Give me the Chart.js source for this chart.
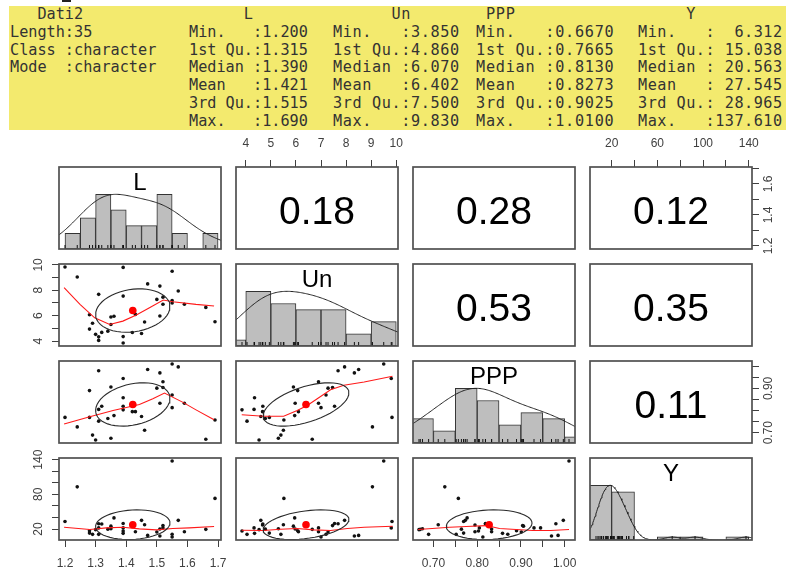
<!DOCTYPE html>
<html>
<head>
<meta charset="utf-8">
<title>Dati2 – pairs panels</title>
<script src="https://cdn.jsdelivr.net/npm/chart.js@4.4.1/dist/chart.umd.min.js"></script>
<style>
  html, body { margin: 0; padding: 0; background: #fff; }
  #page { position: relative; width: 786px; height: 574px; overflow: hidden; background: #fff; }
  #summary { position: absolute; left: 9px; top: 6px; width: 777px; height: 124px; background: #f3ea6e; }
  .sumcol { position: absolute; top: 0; margin: 0; font-family: 'DejaVu Sans Mono', 'Liberation Mono', monospace;
            font-size: 15.2px; line-height: 17.8px; color: #333; white-space: pre; }
  #cursor { position: absolute; left: 62px; top: 0; width: 9px; height: 2px; background: #222; }
  canvas.panel { position: absolute; }
</style>
</head>
<body>
<div id="page">
  <div id="cursor"></div>
  <div id="summary"></div>
</div>
<script>
// ---------- data: 35 observations of Dati2 ----------
const obsL   = [1.20,1.24,1.28,1.28,1.29,1.30,1.31,1.31,1.31,1.32,1.34,1.35,1.35,1.36,1.39,1.39,1.39,1.39,1.42,1.43,1.45,1.46,1.47,1.50,1.51,1.51,1.52,1.52,1.55,1.55,1.55,1.57,1.59,1.66,1.69];
const obsUn  = [9.83,9.05,6.07,4.94,5.40,4.53,7.68,4.33,4.05,4.68,4.78,5.30,5.90,5.95,9.80,7.54,4.35,3.85,4.67,6.10,4.60,5.50,8.50,7.28,8.33,5.97,7.46,6.90,9.50,7.00,7.20,7.94,6.90,6.65,5.52];
const obsPPP = [0.769,0.726,0.890,0.769,0.689,0.667,0.980,0.805,0.752,0.819,0.764,0.675,0.906,0.777,0.945,0.819,0.858,0.803,0.795,0.795,0.773,0.711,0.985,0.901,0.970,0.833,0.904,0.930,1.010,0.813,0.870,0.997,0.833,0.670,0.757];
const obsY   = [33,93,17,13,10.8,19,29.13,22,10.8,28.8,19.8,20.563,25,39.3,22,29.5,12.6,16.5,27,15.3,35,27.5,9,14.8,8,20,26,22,137.61,6.312,11,35,15.276,19.5,73];

const varNames = ['L', 'Un', 'PPP', 'Y'];

// summary() table
const statNames = ['Min.   ', '1st Qu.', 'Median ', 'Mean   ', '3rd Qu.', 'Max.   '];
const statL   = ['1.200', '1.315', '1.390', '1.421', '1.515', '1.690'];
const statUn  = ['3.850', '4.860', '6.070', '6.402', '7.500', '9.830'];
const statPPP = ['0.6670', '0.7665', '0.8130', '0.8273', '0.9025', '1.0100'];
const statY   = ['  6.312', ' 15.038', ' 20.563', ' 27.545', ' 28.965', '137.610'];
const dati2Info = ['Length:35', 'Class :character', 'Mode  :character'];

// correlations, upper triangle row by row: L-Un, L-PPP, L-Y, Un-PPP, Un-Y, PPP-Y
const corrValues = [0.18, 0.28, 0.12, 0.53, 0.35, 0.11];

// histogram breaks
const breaksL   = [1.20, 1.25, 1.30, 1.35, 1.40, 1.45, 1.50, 1.55, 1.60, 1.65, 1.70];
const breaksUn  = [3, 4, 5, 6, 7, 8, 9, 10];
const breaksPPP = [0.65, 0.70, 0.75, 0.80, 0.85, 0.90, 0.95, 1.00, 1.05];
const breaksY   = [0, 20, 40, 60, 80, 100, 120, 140];

// axis ticks and their labels
const ticksL   = [1.2, 1.3, 1.4, 1.5, 1.6, 1.7];
const ticksUn  = [4, 5, 6, 7, 8, 9, 10];
const ticksPPP = [0.70, 0.75, 0.80, 0.85, 0.90, 0.95, 1.00];
const ticksY   = [20, 40, 60, 80, 100, 120, 140];
const labelsLBottom   = ['1.2', '1.3', '1.4', '1.5', '1.6', '1.7'];
const labelsLRight    = ['1.2', '', '1.4', '', '1.6', ''];
const labelsUnTop     = ['4', '5', '6', '7', '8', '9', '10'];
const labelsUnLeft    = ['4', '', '6', '', '8', '', '10'];
const labelsPPPBottom = ['0.70', '', '0.80', '', '0.90', '', '1.00'];
const labelsPPPRight  = ['0.70', '', '', '', '0.90', '', ''];
const labelsYTop      = ['20', '', '60', '', '100', '', '140'];
const labelsYLeft     = ['20', '', '', '80', '', '', '140'];

// lowess smoother vertices
const smoothLUnX   = [1.197, 1.249, 1.297, 1.346, 1.389, 1.433, 1.476, 1.521, 1.552, 1.628, 1.687];
const smoothLUnY   = [8.20, 6.89, 5.83, 5.31, 5.57, 6.05, 6.62, 7.23, 7.10, 6.89, 6.76];
const smoothLPPPX  = [1.197, 1.281, 1.357, 1.443, 1.487, 1.525, 1.584, 1.628, 1.687];
const smoothLPPPY  = [0.739, 0.772, 0.800, 0.827, 0.853, 0.879, 0.838, 0.803, 0.758];
const smoothLYX    = [1.197, 1.281, 1.335, 1.389, 1.443, 1.498, 1.552, 1.606, 1.687];
const smoothLYY    = [23.1, 19.1, 22.1, 23.1, 20.3, 18.6, 20.9, 22.1, 24.3];
const smoothUnPPPX = [3.84, 4.71, 5.51, 6.05, 6.45, 6.85, 7.38, 7.91, 8.72, 9.85];
const smoothUnPPPY = [0.781, 0.774, 0.774, 0.800, 0.823, 0.853, 0.894, 0.914, 0.929, 0.955];
const smoothUnYX   = [3.84, 4.71, 5.38, 6.05, 6.71, 7.38, 8.05, 8.72, 9.86];
const smoothUnYY   = [17.9, 17.4, 19.7, 20.9, 18.6, 17.4, 20.9, 23.1, 24.8];
const smoothPPPYX  = [0.665, 0.737, 0.775, 0.821, 0.851, 0.889, 0.927, 0.968, 1.010];
const smoothPPPYY  = [19.1, 23.1, 24.3, 26.0, 20.9, 19.1, 17.4, 17.4, 19.1];

// ---------- summary block ----------
const summaryEl = document.getElementById('summary');
function addSummaryColumn(pageX, spacing, lines) {
  const pre = document.createElement('pre');
  pre.className = 'sumcol';
  pre.style.left = (pageX - 9) + 'px';
  pre.style.letterSpacing = spacing + 'px';
  pre.textContent = lines.join('\n');
  summaryEl.appendChild(pre);
}
const statLines = vals => statNames.map((n, k) => n + ':' + vals[k]);
addSummaryColumn(10,  0,    ['   Dati2'].concat(dati2Info));
addSummaryColumn(189, 0,    ['      L'].concat(statLines(statL)));
addSummaryColumn(333, 0.6,  ['      Un'].concat(statLines(statUn)));
addSummaryColumn(476, 0.75, [' PPP'].concat(statLines(statPPP)));
addSummaryColumn(638, 0.5,  ['     Y'].concat(statLines(statY)));

// ---------- helpers ----------
const mean = a => a.reduce((s, v) => s + v, 0) / a.length;
const sd = a => { const m = mean(a); return Math.sqrt(a.reduce((s, v) => s + (v - m) * (v - m), 0) / (a.length - 1)); };
const extRange = a => { const lo = Math.min(...a), hi = Math.max(...a), d = (hi - lo) * 0.04; return [lo - d, hi + d]; };
const zip = (xs, ys) => xs.map((x, i) => ({x, y: ys[i]}));

function histCounts(values, br) {
  const c = new Array(br.length - 1).fill(0);
  values.forEach(v => {
    for (let i = 0; i < br.length - 1; i++) {
      if (v <= br[i + 1] && (v > br[i] || (i === 0 && v >= br[0]))) { c[i]++; break; }
    }
  });
  return c;
}

// gaussian kernel density, bandwidth bw.nrd * adjust, scaled to peak 1
function densityCurve(values, adjust) {
  const n = values.length;
  const s = values.slice().sort((a, b) => a - b);
  const q = p => { const h = (n - 1) * p, lo = Math.floor(h); return s[lo] + (h - lo) * (s[Math.min(lo + 1, n - 1)] - s[lo]); };
  const bw = 1.06 * Math.min(sd(values), (q(0.75) - q(0.25)) / 1.34) * Math.pow(n, -0.2) * adjust;
  const from = s[0] - 3 * bw, to = s[n - 1] + 3 * bw, N = 256, out = [];
  for (let i = 0; i < N; i++) {
    const g = from + (to - from) * i / (N - 1);
    let d = 0;
    for (const v of values) { const z = (g - v) / bw; d += Math.exp(-0.5 * z * z); }
    out.push({x: g, y: d});
  }
  const top = Math.max(...out.map(p => p.y));
  return out.map(p => ({x: p.x, y: p.y / top}));
}

// correlation ellipse at one standard deviation
function ellipsePath(xm, ym, xs, ys, r) {
  const seg = 51, th = (r >= 0 ? 1 : -1) / Math.SQRT2;
  const a = Math.sqrt(1 + r), b = Math.sqrt(1 - r), out = [];
  for (let k = 0; k <= seg; k++) {
    const ang = k * 2 * Math.PI / seg, c = Math.cos(ang), s = Math.sin(ang);
    const ex = c * a * th - s * b * th;
    const ey = c * a * th + s * b * th;
    out.push({x: ex * xs + xm, y: ey * ys + ym});
  }
  return out;
}

// ---------- panel geometry ----------
const COL_X = [59, 236, 413, 590];
const ROW_Y = [167, 264, 361, 458];
const PW = 162, PH = 82, M = 34;
const TICK_LEN = 7;
const INK = '#404040';
const FRAME_INK = '#505050';
const FONT_FAMILY = "'Liberation Sans', Arial, Helvetica, sans-serif";
Chart.defaults.font.family = FONT_FAMILY;

const varData   = [obsL, obsUn, obsPPP, obsY];
const varRange  = varData.map(extRange);
const varBreaks = [breaksL, breaksUn, breaksPPP, breaksY];
const varTicks  = [ticksL, ticksUn, ticksPPP, ticksY];
const topLabels    = [null, labelsUnTop, null, labelsYTop];
const bottomLabels = [labelsLBottom, null, labelsPPPBottom, null];
const leftLabels   = [null, labelsUnLeft, null, labelsYLeft];
const rightLabels  = [labelsLRight, null, labelsPPPRight, null];
const smoothers = {
  '0-1': zip(smoothLUnX, smoothLUnY),
  '0-2': zip(smoothLPPPX, smoothLPPPY),
  '0-3': zip(smoothLYX, smoothLYY),
  '1-2': zip(smoothUnPPPX, smoothUnPPPY),
  '1-3': zip(smoothUnYX, smoothUnYY),
  '2-3': zip(smoothPPPYX, smoothPPPYY)
};
const corrIndex = {'0-1': 0, '0-2': 1, '0-3': 2, '1-2': 3, '1-3': 4, '2-3': 5};

const measureCtx = document.createElement('canvas').getContext('2d');
function widestLabel(labels) {
  measureCtx.font = '12px ' + FONT_FAMILY;
  return Math.max(...labels.map(s => measureCtx.measureText(s).width));
}

function scaleOptions(horizontal, range, ticks, spec) {
  const o = {
    type: 'linear', min: range[0], max: range[1], offset: false,
    display: !!spec,
    position: spec ? spec.pos : (horizontal ? 'bottom' : 'left'),
    afterBuildTicks: s => { s.ticks = ticks.map(v => ({value: v})); },
    grid: {drawOnChartArea: false, drawTicks: true, tickLength: TICK_LEN, color: INK, lineWidth: 1},
    border: {display: false},
    ticks: {autoSkip: false, font: {size: 12, family: FONT_FAMILY}, color: INK}
  };
  if (spec) {
    const lab = spec.labels;
    o.ticks.callback = (v, i) => lab[i];
    o.afterFit = s => {
      if (horizontal) s.height = M; else s.width = M;
      s.paddingLeft = s.paddingRight = s.paddingTop = s.paddingBottom = 0;
    };
    if (horizontal) {
      o.ticks.minRotation = 0; o.ticks.maxRotation = 0;
      o.ticks.padding = spec.gap - TICK_LEN - 7.2;
    } else {
      o.ticks.minRotation = 90; o.ticks.maxRotation = 90;
      o.ticks.crossAlign = 'center';
      o.ticks.padding = spec.gap - TICK_LEN - widestLabel(lab) / 2;
    }
  }
  return o;
}

const framePlugin = {
  id: 'panelFrame',
  afterDraw(chart) {
    const {ctx, chartArea: a} = chart;
    ctx.save();
    ctx.strokeStyle = FRAME_INK;
    ctx.lineWidth = 1.7;
    ctx.strokeRect(a.left, a.top, a.right - a.left, a.bottom - a.top);
    ctx.restore();
  }
};

const textPlugin = {
  id: 'panelText',
  afterDatasetsDraw(chart, args, opts) {
    if (!opts || !opts.text) return;
    const {ctx, chartArea: a} = chart;
    ctx.save();
    ctx.font = opts.size + 'px ' + FONT_FAMILY;
    ctx.fillStyle = '#000';
    ctx.textAlign = 'center';
    ctx.textBaseline = 'alphabetic';
    ctx.fillText(opts.text, (a.left + a.right) / 2, a.top + opts.baseline);
    ctx.restore();
  }
};

const page = document.getElementById('page');

function makePanel(row, col, axes, yRange, yTicks, datasets, label) {
  const cv = document.createElement('canvas');
  cv.className = 'panel';
  cv.width = PW + 2 * M;
  cv.height = PH + 2 * M;
  cv.style.left = (COL_X[col] - M) + 'px';
  cv.style.top = (ROW_Y[row] - M) + 'px';
  page.appendChild(cv);
  const xSpec = axes.top || axes.bottom || null;
  const ySpec = axes.left || axes.right || null;
  new Chart(cv.getContext('2d'), {
    type: 'scatter',
    data: {datasets},
    options: {
      responsive: false, animation: false, devicePixelRatio: 1, events: [],
      layout: {padding: {
        left: axes.left ? 0 : M, right: axes.right ? 0 : M,
        top: axes.top ? 0 : M, bottom: axes.bottom ? 0 : M
      }},
      plugins: {legend: {display: false}, tooltip: {enabled: false}, panelText: label || false},
      scales: {
        x: scaleOptions(true, varRange[col], col === row ? varBreaks[col] : varTicks[col], xSpec),
        y: scaleOptions(false, yRange, yTicks, ySpec)
      }
    },
    plugins: [framePlugin, textPlugin]
  });
}

function scatterSets(xi, yi) {
  const xs = varData[xi], ys = varData[yi];
  const key = xi + '-' + yi;
  const r = corrValues[corrIndex[key]];
  return [
    {type: 'line', data: ellipsePath(mean(xs), mean(ys), sd(xs), sd(ys), r),
     borderColor: '#2a2a2a', borderWidth: 1.1, pointRadius: 0, tension: 0, fill: false, clip: 0},
    {type: 'scatter', data: [{x: mean(xs), y: mean(ys)}],
     pointRadius: 3.8, pointBackgroundColor: '#ff0000', pointBorderWidth: 0, clip: 0},
    {type: 'line', data: smoothers[key],
     borderColor: '#ff1a1a', borderWidth: 1.1, pointRadius: 0, tension: 0, fill: false, clip: 0},
    {type: 'scatter', data: zip(xs, ys),
     pointRadius: 1.8, pointBackgroundColor: '#111', pointBorderWidth: 0, clip: 0}
  ];
}

const RUG_Y = 2 * 1.5 / PH;
function histSets(vi) {
  const data = varData[vi], br = varBreaks[vi];
  const counts = histCounts(data, br);
  const top = Math.max(...counts);
  const bars = counts.map((c, k) => ({x: (br[k] + br[k + 1]) / 2, y: c / top}));
  return [
    {type: 'line', data: densityCurve(data, 1.2),
     borderColor: '#222', borderWidth: 1, pointRadius: 0, tension: 0, fill: false, clip: 0},
    {type: 'scatter', data: data.map(v => ({x: v, y: RUG_Y})),
     pointStyle: 'line', pointRotation: 90, pointRadius: 2, pointBorderColor: '#111', pointBorderWidth: 1, clip: 0},
    {type: 'bar', data: bars, backgroundColor: '#bebebe', borderColor: '#333', borderWidth: 1,
     borderSkipped: false, barPercentage: 1, categoryPercentage: 1, clip: 0}
  ];
}

// ---------- build the 4 x 4 grid ----------
for (let row = 0; row < 4; row++) {
  for (let col = 0; col < 4; col++) {
    const axes = {};
    if (row === 0 && topLabels[col]) axes.top = {pos: 'top', labels: topLabels[col], gap: 23};
    if (row === 3 && bottomLabels[col]) axes.bottom = {pos: 'bottom', labels: bottomLabels[col], gap: 23.3};
    if (col === 0 && leftLabels[row]) axes.left = {pos: 'left', labels: leftLabels[row], gap: 20};
    if (col === 3 && rightLabels[row]) axes.right = {pos: 'right', labels: rightLabels[row], gap: 17};

    if (row === col) {
      makePanel(row, col, axes, [0, 1.5], [0, 0.5, 1, 1.5], histSets(col),
                {text: varNames[col], size: 24, baseline: 23});
    } else if (row > col) {
      makePanel(row, col, axes, varRange[row], varTicks[row], scatterSets(col, row), null);
    } else {
      const r = corrValues[corrIndex[row + '-' + col]];
      makePanel(row, col, axes, varRange[row], varTicks[row], [],
                {text: r.toFixed(2), size: 39, baseline: 57});
    }
  }
}
</script>
</body>
</html>
